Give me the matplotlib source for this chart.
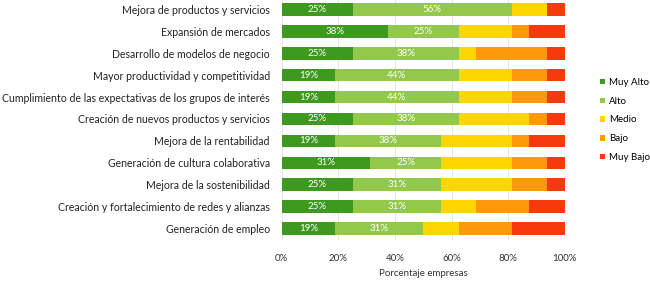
import matplotlib.pyplot as plt
import numpy as np

categories = [
    "Mejora de productos y servicios",
    "Expansión de mercados",
    "Desarrollo de modelos de negocio",
    "Mayor productividad y competitividad",
    "Cumplimiento de las expectativas de los grupos de interés",
    "Creación de nuevos productos y servicios",
    "Mejora de la rentabilidad",
    "Generación de cultura colaborativa",
    "Mejora de la sostenibilidad",
    "Creación y fortalecimiento de redes y alianzas",
    "Generación de empleo",
]
muy_alto = [25, 37.5, 25, 18.75, 18.75, 25, 18.75, 31.25, 25, 25, 18.75]
alto = [56.25, 25, 37.5, 43.75, 43.75, 37.5, 37.5, 25, 31.25, 31.25, 31.25]
medio = [12.5, 18.75, 6.25, 18.75, 18.75, 25, 25, 25, 25, 12.5, 12.5]
bajo = [0, 6.25, 25, 12.5, 12.5, 6.25, 6.25, 12.5, 12.5, 18.75, 18.75]
muy_bajo = [6.25, 12.5, 6.25, 6.25, 6.25, 6.25, 12.5, 6.25, 6.25, 12.5, 18.75]

series = [("Muy Alto", muy_alto, "#3d9a1e"),
          ("Alto", alto, "#92c94a"),
          ("Medio", medio, "#ffd700"),
          ("Bajo", bajo, "#fd9a0c"),
          ("Muy Bajo", muy_bajo, "#f53a0e")]
labelled = ["Muy Alto", "Alto"]

plt.rcParams['font.family'] = ['Lato', 'DejaVu Sans']
fig = plt.figure(figsize=(6.5, 2.81), dpi=100)
ax = fig.add_axes([0.4335, 0.146, 0.4355, 0.854])

y = np.arange(len(categories))
left = np.zeros(len(categories))
for name, vals, col in series:
    vals = np.array(vals, dtype=float)
    bars = ax.barh(y, vals, left=left, height=0.57, color=col, label=name, zorder=2)
    if name in labelled:
        for b, v in zip(bars, vals):
            ax.text(b.get_x() + b.get_width() / 2, b.get_y() + b.get_height() / 2,
                    f"{v:.0f}%", ha="center", va="center", color="white",
                    fontsize=7, zorder=3)
    left += vals

ax.set_yticks(y)
ax.set_yticklabels(categories, fontsize=7.6, color="#222222")
ax.set_ylim(10.525, -0.434)
ax.set_xlim(0, 100)
ax.set_xticks(np.arange(0, 101, 20))
ax.set_xticklabels([f"{t}%" for t in range(0, 101, 20)], fontsize=7, color="#333333")
ax.set_xlabel("Porcentaje empresas", fontsize=7, color="#333333", labelpad=4.5)
ax.tick_params(axis="y", length=0, pad=8.5)
ax.tick_params(axis="x", length=0, pad=10)
ax.xaxis.grid(True, color="#e6e6e6", linewidth=0.7, zorder=0)
for s in ax.spines.values():
    s.set_visible(False)

ax.legend(loc="center left", bbox_to_anchor=(1.11, 0.5), borderaxespad=0,
          frameon=False, fontsize=7, handlelength=0.5, handleheight=0.5,
          labelspacing=1.0, handletextpad=0.4)

fig.savefig("out.png", dpi=100)
